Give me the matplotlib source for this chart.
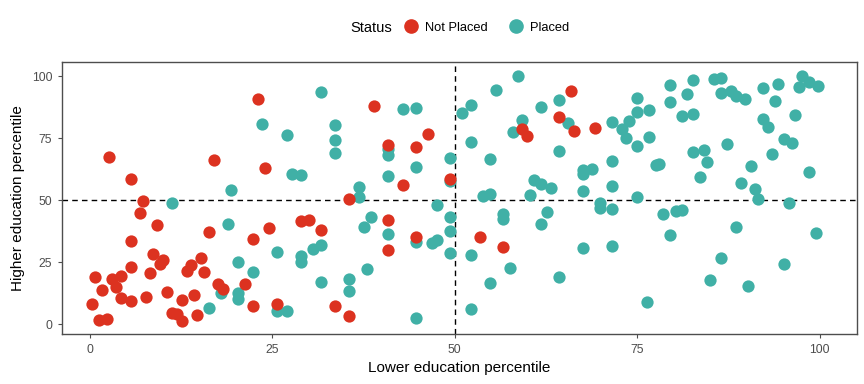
import matplotlib.pyplot as plt
from matplotlib.lines import Line2D

plt.rcParams['font.family'] = ['Liberation Sans', 'DejaVu Sans']

# Lower / higher education percentile
not_placed_x = [23.1, 2.6, 17.0, 24.0, 5.6, 7.3, 6.9, 9.2, 16.4, 5.6, 22.3, 8.7, 10.0,
                9.6, 15.3, 13.8, 13.3, 15.6, 0.75, 5.6, 4.3, 3.0, 3.6, 1.7, 8.2, 17.6,
                18.3, 21.3, 4.3, 5.6, 7.7, 10.6, 12.7, 14.3, 0.34, 22.3, 11.3, 11.9,
                12.7, 14.7, 1.3, 2.3, 39.0, 46.3, 40.8, 44.7, 49.3, 42.9, 35.5, 40.8,
                40.8, 44.7, 24.5, 28.9, 30.0, 31.7, 25.6, 33.6, 35.5, 65.9, 64.3, 66.3,
                59.2, 59.9, 69.2, 53.4, 56.6]
not_placed_y = [90.8, 67.5, 66.3, 63.1, 58.7, 49.7, 45.0, 39.8, 37.0, 33.5, 34.2, 28.2, 25.9,
                24.4, 26.8, 23.7, 21.6, 21.0, 19.2, 22.9, 19.6, 18.1, 14.8, 13.7, 20.7, 16.1,
                14.2, 16.3, 10.5, 9.2, 10.9, 12.9, 9.7, 11.7, 8.3, 7.5, 4.3, 4.0,
                1.1, 3.5, 1.5, 1.9, 88.0, 76.7, 72.1, 71.5, 58.4, 55.9, 50.6, 41.8,
                29.8, 35.0, 38.6, 41.4, 42.1, 37.8, 8.2, 7.2, 3.1, 94.0, 83.6, 78.0,
                78.5, 75.9, 79.2, 35.0, 31.0]

placed_x = [23.6, 19.3, 11.3, 19.0, 20.3, 22.3, 18.0, 20.3, 20.3, 16.4,
            31.7, 42.9, 44.7, 27.0, 33.6, 33.6, 33.6, 40.8, 40.8, 49.3, 27.7, 29.0,
            40.8, 44.7, 49.3, 36.9, 36.9, 47.6, 49.3, 49.3, 49.3, 38.5, 37.6, 40.8,
            44.7, 46.9, 47.6, 25.6, 28.9, 28.9, 30.6, 31.7, 38.0, 31.7, 35.5, 35.5,
            25.6, 27.0, 44.7,
            58.6, 55.7, 52.2, 51.0, 61.8, 64.3, 75.0, 75.0, 76.6, 59.2, 65.5, 58.0,
            71.5, 72.9, 73.9, 73.4, 75.0, 76.6, 52.2, 64.3, 54.8, 71.5, 67.6, 67.6,
            68.8, 60.8, 61.8, 63.2, 71.5, 67.6, 75.0, 60.3, 53.9, 54.8, 69.9, 69.9,
            56.6, 56.6, 62.6, 61.8, 71.5, 52.2, 57.6, 54.8, 64.3, 67.6, 71.5, 52.2,
            76.4,
            79.5, 82.7, 85.5, 86.5, 81.8, 79.5, 86.5, 87.9, 88.5, 89.7, 92.2, 94.3,
            97.6, 97.1, 98.5, 99.8, 93.9, 81.1, 82.7, 96.6, 92.2, 92.9, 87.3, 95.1,
            96.2, 82.7, 84.1, 84.6, 93.5, 77.6, 78.0, 90.6, 83.6, 98.5, 89.2, 91.1,
            91.5, 95.8, 78.6, 80.3, 81.1, 79.5, 88.5, 99.5, 86.5, 95.1, 85.0, 90.2]
placed_y = [80.7, 53.9, 48.8, 40.5, 24.9, 21.2, 12.7, 12.4, 10.1, 6.7,
            93.4, 86.8, 87.2, 76.3, 80.3, 74.3, 69.1, 70.5, 68.2, 67.1, 60.7, 60.3,
            59.9, 63.5, 57.8, 55.1, 51.3, 48.0, 43.0, 37.4, 28.7, 43.4, 39.3, 36.2,
            33.0, 32.6, 33.9, 28.9, 27.3, 25.2, 30.3, 31.8, 22.1, 16.9, 18.1, 13.2,
            5.5, 5.2, 2.3,
            100.0, 94.4, 88.4, 85.2, 87.6, 90.2, 91.2, 85.6, 86.4, 82.4, 81.2, 77.6,
            81.6, 78.8, 82.0, 75.1, 71.9, 75.5, 73.5, 69.9, 66.7, 65.9, 62.2, 60.5,
            62.7, 58.0, 56.7, 54.7, 55.5, 53.5, 51.2, 52.2, 51.8, 52.6, 49.0, 47.0,
            44.3, 42.3, 45.4, 40.2, 46.6, 27.8, 22.5, 16.5, 18.9, 30.6, 31.4, 6.1,
            8.9,
            96.4, 98.4, 98.8, 99.4, 92.7, 89.4, 93.0, 94.1, 91.9, 90.6, 95.4, 97.0,
            100.1, 95.6, 97.6, 96.2, 89.8, 83.9, 84.9, 84.4, 82.9, 79.4, 72.7, 74.7,
            73.1, 69.5, 70.2, 65.5, 68.7, 64.2, 64.6, 63.9, 59.5, 61.5, 57.1, 54.3,
            50.3, 49.0, 44.6, 45.8, 46.2, 35.8, 39.0, 36.6, 26.6, 24.2, 17.8, 15.3]

red = '#DC3220'
teal = '#40B0A6'
grey = '#4D4D4D'

fig = plt.figure(figsize=(8.64, 3.84), dpi=100)
ax = fig.add_axes([0.0718, 0.130, 0.920, 0.708])

ax.scatter(placed_x, placed_y, s=78, color=teal, linewidths=0, zorder=3)
ax.scatter(not_placed_x, not_placed_y, s=78, color=red, linewidths=0, zorder=3)

ax.axvline(50, color='black', linestyle=(0, (4, 3)), linewidth=1.0, zorder=2)
ax.axhline(50, color='black', linestyle=(0, (4, 3)), linewidth=1.0, zorder=2)

ax.set_xlim(-3.8, 105.1)
ax.set_ylim(-4.0, 105.6)
ax.set_xticks([0, 25, 50, 75, 100])
ax.set_yticks([0, 25, 50, 75, 100])
ax.tick_params(colors=grey, labelsize=8.8, length=3, width=0.8, labelcolor=grey, pad=4)
for sp in ax.spines.values():
    sp.set_color(grey)
    sp.set_linewidth(1.0)

ax.set_xlabel('Lower education percentile', fontsize=11, labelpad=4)
ax.set_ylabel('Higher education percentile', fontsize=11, labelpad=5)

# legend on top: title as separate text, entries in a horizontal legend
fig.text(350 / 864, 1 - 28 / 384, 'Status', fontsize=10.5, ha='left', va='center')
handles = [Line2D([], [], marker='o', linestyle='', color=red, markersize=9.5),
           Line2D([], [], marker='o', linestyle='', color=teal, markersize=9.5)]
fig.legend(handles, ['Not Placed', 'Placed'], loc='center left',
           bbox_to_anchor=(403 / 864, 1 - 28 / 384), ncol=2, frameon=False,
           fontsize=9.3, handlelength=1.2, handletextpad=0.48, columnspacing=1.63,
           borderaxespad=0, borderpad=0)

fig.savefig('out.png', dpi=100)
